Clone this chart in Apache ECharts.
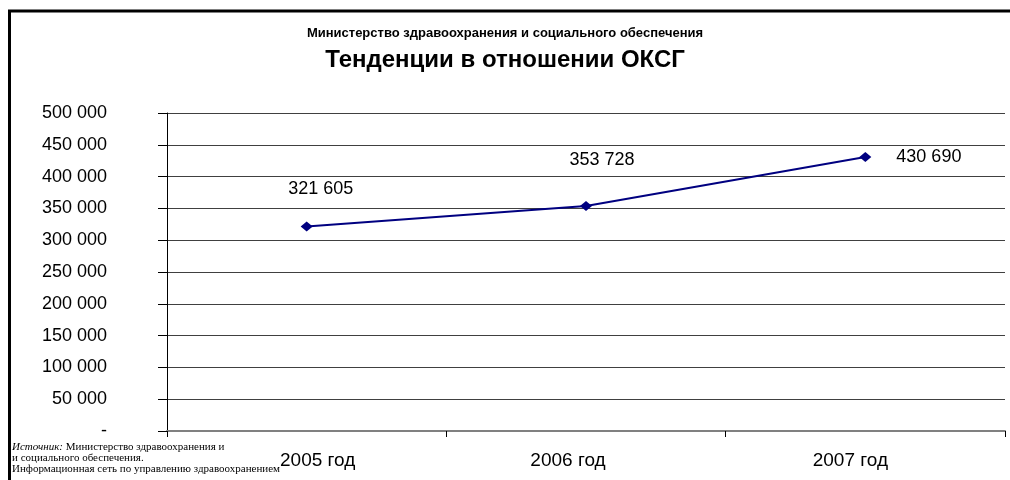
<!DOCTYPE html>
<html>
<head>
<meta charset="utf-8">
<script src="https://cdn.jsdelivr.net/npm/echarts@6/dist/echarts.min.js"></script>
<style>
html,body{margin:0;padding:0;background:#fff;}
#c{width:1010px;height:480px;}
</style>
</head>
<body>
<div id="c"></div>
<script>
var categories = ['2005 год', '2006 год', '2007 год'];
var values = [321605, 353728, 430690];
var yTicks = [0, 50000, 100000, 150000, 200000, 250000, 300000, 350000, 400000, 450000, 500000];
var supTitle = 'Министерство здравоохранения и социального обеспечения';
var mainTitle = 'Тенденции в отношении ОКСГ';
var sourceLines = ['Министерство здравоохранения и', 'и социального обеспечения.', 'Информационная сеть по управлению здравоохранением'];

function fmt(v) {
  if (v === 0) return '-';
  return String(v).replace(/\B(?=(\d{3})+(?!\d))/g, ' ');
}

var labelStyles = [
  { position: 'top', offset: [14, -18] },
  { position: 'top', offset: [16, -27] },
  { position: 'right', offset: [20, 0] }
];

var font = '"Liberation Sans", Arial, sans-serif';
var serif = '"Liberation Serif", "Times New Roman", serif';
var catRich = {
  c0: { fontSize: 19, fontFamily: font, color: '#000', padding: [0, 0, 0, 22] },
  c1: { fontSize: 19, fontFamily: font, color: '#000', padding: [0, 36, 0, 0] },
  c2: { fontSize: 19, fontFamily: font, color: '#000', padding: [0, 30, 0, 0] }
};

var chart = echarts.init(document.getElementById('c'), null, { renderer: 'canvas' });

chart.setOption({
  animation: false,
  backgroundColor: '#ffffff',
  grid: { left: 167, right: 5, top: 113, bottom: 49, containLabel: false },
  xAxis: {
    type: 'category',
    data: categories,
    boundaryGap: true,
    axisLine: { lineStyle: { color: '#808080', width: 2 } },
    axisTick: { show: true, length: 6, lineStyle: { color: '#000', width: 1 } },
    axisLabel: {
      color: '#000', fontSize: 19, fontFamily: font, margin: 20,
      formatter: function (v, i) { return '{c' + i + '|' + v + '}'; },
      rich: catRich
    },
    splitLine: { show: false }
  },
  yAxis: {
    type: 'value',
    min: yTicks[0],
    max: yTicks[yTicks.length - 1],
    interval: yTicks[1] - yTicks[0],
    axisLine: { show: true, lineStyle: { color: '#000', width: 1 } },
    axisTick: { show: true, length: 9, inside: false, lineStyle: { color: '#000' } },
    axisLabel: { color: '#000', fontSize: 18, fontFamily: font, margin: 60, formatter: fmt, padding: [4, 0, 0, 0] },
    splitLine: { show: true, lineStyle: { color: '#404040', width: 1 } }
  },
  series: [{
    type: 'line',
    data: values.map(function (v, i) {
      return { value: v, label: labelStyles[i] };
    }),
    symbol: 'diamond',
    symbolSize: [12, 10],
    lineStyle: { color: '#000080', width: 2 },
    itemStyle: { color: '#000080' },
    label: {
      show: true,
      color: '#000',
      fontSize: 18,
      fontFamily: font,
      formatter: function (p) { return fmt(p.value); }
    }
  }],
  graphic: [
    { type: 'line', shape: { x1: 8, y1: 11, x2: 1010, y2: 11 }, style: { stroke: '#000', lineWidth: 3 } },
    { type: 'line', shape: { x1: 9.5, y1: 10, x2: 9.5, y2: 480 }, style: { stroke: '#000', lineWidth: 3 } },
    { type: 'text', left: 'center', top: 27, style: { text: supTitle, font: 'bold 13px ' + font, fill: '#000' }, x: -15 },
    { type: 'text', left: 'center', top: 48, style: { text: mainTitle, font: 'bold 24px ' + font, fill: '#000' }, x: 5 },
    {
      type: 'text', left: 12, top: 442,
      style: {
        text: '{i|Источник:} ' + sourceLines[0] + '\n' + sourceLines[1] + '\n' + sourceLines[2],
        font: '11px ' + serif,
        fill: '#000',
        lineHeight: 11,
        rich: { i: { fontStyle: 'italic', fontFamily: serif, fontSize: 11, fill: '#000', lineHeight: 11 } }
      }
    }
  ]
});
</script>
</body>
</html>
